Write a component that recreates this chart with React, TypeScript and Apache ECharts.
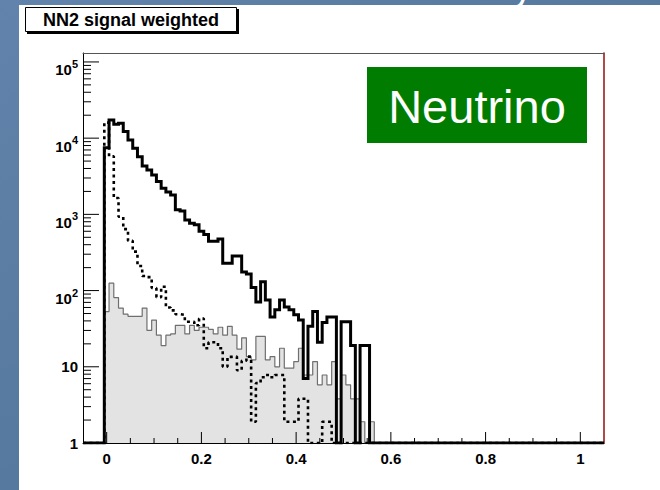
import React, { useEffect, useRef } from "react";
import * as echarts from "echarts";

// NN2 output (signal weighted): bin contents, bins 0.01 wide centred on 0, 0.01, 0.02 ...
const binWidth = 0.01;
const firstBinLowEdge = -0.005;

// thick solid histogram
const solidCounts = [
  7500, 17300, 15200, 15700, 12200, 9460, 7370, 5720, 4300, 3830,
  3290, 2700, 2200, 1960, 1800, 1150, 1110, 845, 764, 730,
  600, 545, 445, 445, 475, 228, 228, 285, 285, 175,
  165, 110, 71, 131, 75, 45, 56, 75, 61, 56,
  48, 41, 7, 34, 53, 21, 38, 45, 45, 0,
  39, 39, 19, 0, 19, 19,
];

// dotted histogram
const dottedCounts = [
  16000, 5800, 1640, 930, 640, 450, 324, 210, 155, 150,
  108, 82, 112, 60, 55, 49, 48, 39, 39, 35,
  43, 17.5, 21, 21, 17.5, 10, 13.5, 13.6, 9, 12,
  13.6, 1.9, 6.1, 7.3, 7.8, 7.3, 7.8, 7.8, 1.9, 1.9,
  1.9, 3.8, 3.8, 0, 0, 0, 1.9, 1.9,
];

// grey filled histogram
const shadedCounts = [
  53, 125, 81, 59, 49, 46, 46, 46, 59, 30,
  41, 26, 19, 26, 27, 35, 35, 27, 35, 30,
  33, 33, 31, 27, 33, 26, 34, 26, 17, 24,
  13.6, 12.3, 25, 25, 12.3, 13.6, 10, 17.5, 9.6, 9.6,
  11.7, 17.5, 7.8, 7.8, 11.7, 5.8, 7.8, 5.8, 11.7, 3.8,
  7.8, 5.8, 3.8, 3.8, 1.9, 0, 1.9,
];

const xRange = [-0.05, 1.05];
const yRange = [1, 131000];

const xMajorTicks = [0, 0.2, 0.4, 0.6, 0.8, 1];
const xMinorTicks = [0.05, 0.1, 0.15, 0.25, 0.3, 0.35, 0.45, 0.5, 0.55, 0.65, 0.7, 0.75, 0.85, 0.9, 0.95];
const yDecades = [1, 10, 100, 1000, 10000, 100000];
const yMinorMultipliers = [2, 3, 4, 5, 6, 7, 8, 9];

const FONT = "'Liberation Sans', Arial, Helvetica, sans-serif";

// Step outline of a histogram; empty bins sit on the lower edge of the log axis.
function outline(counts: number[]): number[][] {
  const floor = yRange[0];
  const edge = (i: number) => +(firstBinLowEdge + i * binWidth).toFixed(4);
  const pts: number[][] = [[xRange[0], floor], [edge(0), floor]];
  counts.forEach((c, i) => {
    const h = Math.max(c, floor);
    pts.push([edge(i), h], [edge(i + 1), h]);
  });
  pts.push([edge(counts.length), floor], [xRange[1], floor]);
  return pts;
}

export default function App() {
  const ref = useRef<HTMLDivElement>(null);

  useEffect(() => {
    if (!ref.current) return;
    const chart = echarts.init(ref.current, undefined, { renderer: "svg" });

    const xTickData: number[][] = [
      ...xMajorTicks.map((v) => [v, yRange[0], 11]),
      ...xMinorTicks.map((v) => [v, yRange[0], 5]),
    ];
    const yTickData: number[][] = [];
    yDecades.forEach((d) => {
      yTickData.push([xRange[0], d, 16]);
      yMinorMultipliers.forEach((m) => {
        const v = m * d;
        if (v < yRange[1]) yTickData.push([xRange[0], v, 8]);
      });
    });

    const yLabel = (v: number) => {
      const e = Math.log10(v);
      const n = Math.round(e);
      if (Math.abs(e - n) > 1e-6) return "";
      if (n === 0) return "{plain|1}";
      if (n === 1) return "{plain|10}";
      return `{base|10}{sup|${n}}`;
    };
    const xLabel = (v: number) => {
      const q = v / 0.2;
      if (v < -1e-9 || Math.abs(q - Math.round(q)) > 1e-6) return "";
      return String(Math.round(v * 10) / 10);
    };

    const option: any = {
      animation: false,
      backgroundColor: "#5b7ea8",
      grid: { left: 83, top: 53, right: 56, bottom: 47, outerBoundsMode: "none" },
      xAxis: [
        {
          type: "value",
          min: xRange[0],
          max: xRange[1],
          axisLine: { show: true, onZero: false, lineStyle: { color: "#000", width: 1 } },
          axisTick: { show: false },
          splitLine: { show: false },
          axisLabel: {
            formatter: xLabel,
            margin: 8,
            color: "#000",
            fontFamily: FONT,
            fontWeight: "bold",
            fontSize: 15,
            showMinLabel: true,
            showMaxLabel: false,
          },
        },
        {
          type: "value",
          position: "top",
          min: xRange[0],
          max: xRange[1],
          axisLine: { show: true, onZero: false, lineStyle: { color: "#555", width: 1 } },
          axisTick: { show: false },
          axisLabel: { show: false },
          splitLine: { show: false },
        },
      ],
      yAxis: [
        {
          type: "log",
          logBase: 10,
          min: yRange[0],
          max: yRange[1],
          axisLine: { show: true, onZero: false, lineStyle: { color: "#000", width: 1 } },
          axisTick: { show: false },
          minorTick: { show: false },
          splitLine: { show: false },
          axisLabel: {
            formatter: yLabel,
            margin: 5,
            color: "#000",
            fontFamily: FONT,
            fontWeight: "bold",
            fontSize: 15,
            showMaxLabel: false,
            rich: {
              plain: { fontFamily: FONT, fontWeight: "bold", fontSize: 15, lineHeight: 15, color: "#000" },
              base: {
                fontFamily: FONT, fontWeight: "bold", fontSize: 15, lineHeight: 15,
                padding: [8, 0, 0, 0], verticalAlign: "top", color: "#000",
              },
              sup: {
                fontFamily: FONT, fontWeight: "bold", fontSize: 11, lineHeight: 11,
                padding: [4, 0, 0, 0], verticalAlign: "top", color: "#000",
              },
            },
          },
        },
        {
          type: "log",
          logBase: 10,
          position: "right",
          min: yRange[0],
          max: yRange[1],
          axisLine: { show: true, onZero: false, lineStyle: { color: "#9a1c1c", width: 1.6 } },
          axisTick: { show: false },
          minorTick: { show: false },
          axisLabel: { show: false },
          splitLine: { show: false },
        },
      ],
      series: [
        {
          name: "shaded",
          type: "line",
          data: outline(shadedCounts),
          symbol: "none",
          silent: true,
          z: 2,
          lineStyle: { color: "#6f6f6f", width: 1.2 },
          areaStyle: { color: "#e3e3e3", origin: "start", opacity: 1 },
        },
        {
          name: "dotted",
          type: "line",
          data: outline(dottedCounts),
          symbol: "none",
          silent: true,
          z: 3,
          lineStyle: { color: "#000", width: 2.6, type: [3, 3.5], cap: "butt" },
        },
        {
          name: "solid",
          type: "line",
          data: outline(solidCounts),
          symbol: "none",
          silent: true,
          z: 4,
          lineStyle: { color: "#000", width: 3, join: "miter" },
        },
        {
          name: "xticks",
          type: "custom",
          coordinateSystem: "cartesian2d",
          silent: true,
          clip: false,
          z: 6,
          encode: { x: 0, y: 1 },
          data: xTickData,
          renderItem: (_p: any, api: any) => {
            const p = api.coord([api.value(0), api.value(1)]);
            const len = api.value(2);
            return {
              type: "line",
              shape: { x1: p[0], y1: p[1], x2: p[0], y2: p[1] - len },
              style: { stroke: "#000", lineWidth: 1 },
            };
          },
        },
        {
          name: "yticks",
          type: "custom",
          coordinateSystem: "cartesian2d",
          silent: true,
          clip: false,
          z: 6,
          encode: { x: 0, y: 1 },
          data: yTickData,
          renderItem: (_p: any, api: any) => {
            const p = api.coord([api.value(0), api.value(1)]);
            const len = api.value(2);
            return {
              type: "line",
              shape: { x1: p[0], y1: p[1], x2: p[0] + len, y2: p[1] },
              style: { stroke: "#000", lineWidth: 1 },
            };
          },
        },
      ],
      graphic: [
        {
          type: "rect",
          z: -20,
          silent: true,
          shape: { x: 0, y: 0, width: 660, height: 490 },
          style: {
            fill: new echarts.graphic.LinearGradient(0, 0, 1, 1, [
              { offset: 0, color: "#6283ab" },
              { offset: 0.5, color: "#56799f" },
              { offset: 1, color: "#5f82aa" },
            ]),
          },
        },
        {
          type: "text",
          z: -19,
          silent: true,
          x: 513,
          y: 6,
          style: { text: "y", fill: "#ffffff", font: `40px ${FONT}`, verticalAlign: "bottom" },
        },
        {
          type: "rect",
          z: -18,
          silent: true,
          shape: { x: 19, y: 5, width: 641, height: 485 },
          style: { fill: "#ffffff" },
        },
        {
          type: "rect",
          z: 10,
          silent: true,
          shape: { x: 27, y: 9, width: 212, height: 25 },
          style: { fill: "#000000" },
        },
        {
          type: "rect",
          z: 11,
          silent: true,
          shape: { x: 25.5, y: 7.5, width: 211, height: 24 },
          style: { fill: "#ffffff", stroke: "#000000", lineWidth: 1 },
        },
        {
          type: "text",
          z: 12,
          silent: true,
          x: 131,
          y: 20,
          style: {
            text: "NN2 signal weighted",
            fill: "#000",
            font: `bold 18px ${FONT}`,
            align: "center",
            verticalAlign: "middle",
          },
        },
        {
          type: "rect",
          z: 10,
          silent: true,
          shape: { x: 367, y: 67, width: 220, height: 76 },
          style: { fill: "#007c00" },
        },
        {
          type: "text",
          z: 11,
          silent: true,
          x: 477,
          y: 106,
          style: {
            text: "Neutrino",
            fill: "#ffffff",
            font: `47px ${FONT}`,
            align: "center",
            verticalAlign: "middle",
          },
        },
      ],
    };

    chart.setOption(option);
    return () => chart.dispose();
  }, []);

  return (
    <div
      ref={ref}
      style={{ position: "fixed", left: 0, top: 0, width: 660, height: 490 }}
    />
  );
}
